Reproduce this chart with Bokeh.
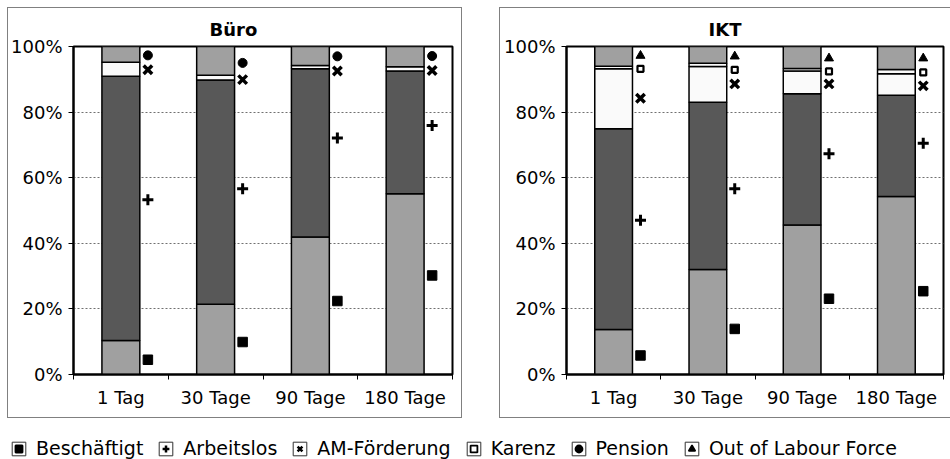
from bokeh.plotting import figure
from bokeh.models import (Range1d, FixedTicker, Legend, LegendItem,
                          ColumnDataSource, Spacer)
from bokeh.layouts import row, column
from bokeh.embed import file_html
from bokeh.resources import INLINE

# ---------------- data ----------------
categories = ["1 Tag", "30 Tage", "90 Tage", "180 Tage"]
series = ["Beschäftigt", "Arbeitslos", "AM-Förderung", "Karenz", "Pension", "Out of Labour Force"]
y_ticks = [0, 20, 40, 60, 80, 100]
y_tick_labels = ["0%", "20%", "40%", "60%", "80%", "100%"]

# stacked shares (%) - Büro
buero_beschaeftigt = [10.4, 21.4, 41.9, 55.1]
buero_arbeitslos = [80.5, 68.4, 51.3, 37.4]
buero_am = [4.3, 1.4, 1.0, 1.3]
buero_karenz = [0.0, 0.0, 0.0, 0.0]
buero_pension = [4.8, 8.8, 5.8, 6.2]
buero_olf = [0.0, 0.0, 0.0, 0.0]

# stacked shares (%) - IKT
ikt_beschaeftigt = [13.7, 32.0, 45.6, 54.3]
ikt_arbeitslos = [61.2, 51.0, 40.0, 30.8]
ikt_am = [18.3, 10.9, 6.9, 6.6]
ikt_karenz = [0.8, 1.0, 0.8, 1.3]
ikt_pension = [0.0, 0.0, 0.0, 0.0]
ikt_olf = [6.0, 5.1, 6.7, 7.0]

# marker series (%) - Büro
buero_m_beschaeftigt = [4.5, 9.9, 22.4, 30.2]
buero_m_arbeitslos = [53.3, 56.6, 72.1, 75.9]
buero_m_am = [92.9, 89.9, 92.5, 92.7]
buero_m_pension = [97.3, 95.0, 97.0, 97.1]

# marker series (%) - IKT
ikt_m_beschaeftigt = [5.8, 13.9, 23.1, 25.4]
ikt_m_arbeitslos = [47.0, 56.6, 67.3, 70.5]
ikt_m_am = [84.2, 88.6, 88.6, 88.0]
ikt_m_karenz = [93.2, 92.9, 92.4, 92.1]
ikt_m_olf = [97.2, 97.0, 96.4, 96.4]

# ---------------- styles ----------------
FONT = "DejaVu Sans"
bar_fill = {
    "Beschäftigt": "#a0a0a0",
    "Arbeitslos": "#585858",
    "AM-Förderung": "#fafafa",
    "Karenz": "#fafafa",
    "Pension": "#a0a0a0",
    "Out of Labour Force": "#a0a0a0",
}
marker_style = {
    "Beschäftigt": dict(marker="square", size=9.5, fill_color="black", line_color="black", line_width=1),
    "Arbeitslos": dict(marker="cross", size=11, fill_color="black", line_color="black", line_width=3),
    "AM-Förderung": dict(marker="x", size=12, fill_color="black", line_color="black", line_width=3.5),
    "Karenz": dict(marker="square", size=6, fill_color="white", line_color="black", line_width=2.2),
    "Pension": dict(marker="circle", size=9, fill_color="black", line_color="black", line_width=1),
    "Out of Labour Force": dict(marker="triangle", size=9, fill_color="black", line_color="black", line_width=1),
}
legend_marker_lw = {"Beschäftigt": 2, "Arbeitslos": 2.5, "AM-Förderung": 2.5, "Karenz": 1.8,
                    "Pension": 2, "Out of Labour Force": 1.5}

BAR_W = 0.4
MK_OFF = 0.285


def make_panel(title, stacks, marks, width, height, left, right, top, bottom,
               title_offset, shadow):
    n = len(categories)
    xs = [i + 0.5 for i in range(n)]
    p = figure(width=width, height=height, x_range=Range1d(0, n), y_range=Range1d(0, 100),
               output_backend="svg", toolbar_location=None,
               min_border_left=left, min_border_right=right,
               min_border_top=top, min_border_bottom=bottom,
               styles={"box-shadow": shadow})
    p.background_fill_color = "white"
    p.border_fill_color = None
    p.outline_line_color = "black"
    p.outline_line_width = 2

    # stacked bars
    present = [(s, v) for s, v in stacks if any(x > 0 for x in v)]
    keys = ["s%d" % i for i in range(len(present))]
    data = {"x": xs}
    for k, (s, v) in zip(keys, present):
        data[k] = v
    src = ColumnDataSource(data)
    p.vbar_stack(keys, x="x", width=BAR_W, source=src,
                 fill_color=[bar_fill[s] for s, v in present],
                 line_color="black", line_width=1.5)

    # markers
    for s, vals in marks:
        p.scatter(x=[x + MK_OFF for x in xs], y=vals, **marker_style[s])

    # grid
    p.xgrid.visible = False
    p.ygrid.ticker = FixedTicker(ticks=y_ticks)
    p.ygrid.grid_line_color = "#707070"
    p.ygrid.grid_line_dash = "2 2"
    p.ygrid.grid_line_width = 1

    # y axis
    yax = p.yaxis[0]
    yax.ticker = FixedTicker(ticks=y_ticks)
    yax.major_label_overrides = {t: l for t, l in zip(y_ticks, y_tick_labels)}
    yax.major_tick_in = 0
    yax.major_tick_out = 5
    yax.major_tick_line_color = "black"
    yax.minor_tick_line_color = None
    yax.axis_line_color = "black"
    yax.axis_line_width = 2
    yax.major_label_standoff = 6
    yax.major_label_text_font = FONT
    yax.major_label_text_font_size = "18px"
    yax.major_label_text_color = "black"

    # x axis
    xax = p.xaxis[0]
    xax.ticker = FixedTicker(ticks=xs, minor_ticks=list(range(n + 1)))
    xax.major_label_overrides = {x: c for x, c in zip(xs, categories)}
    xax.major_tick_line_color = None
    xax.major_tick_in = 0
    xax.major_tick_out = 5
    xax.minor_tick_in = 0
    xax.minor_tick_out = 5
    xax.minor_tick_line_color = "black"
    xax.axis_line_color = "black"
    xax.axis_line_width = 2
    xax.major_label_standoff = 7
    xax.major_label_text_font = FONT
    xax.major_label_text_font_size = "18px"
    xax.major_label_text_color = "black"

    # title
    p.title.text = title
    p.title.align = "left"
    p.title.offset = title_offset
    p.title.standoff = 14
    p.title.text_font = FONT
    p.title.text_font_style = "bold"
    p.title.text_font_size = "18px"
    p.title.text_color = "black"
    return p


p1 = make_panel(
    "Büro",
    [("Beschäftigt", buero_beschaeftigt), ("Arbeitslos", buero_arbeitslos),
     ("AM-Förderung", buero_am), ("Karenz", buero_karenz),
     ("Pension", buero_pension), ("Out of Labour Force", buero_olf)],
    [("Beschäftigt", buero_m_beschaeftigt), ("Arbeitslos", buero_m_arbeitslos),
     ("AM-Förderung", buero_m_am), ("Pension", buero_m_pension)],
    width=455, height=411, left=66, right=10, top=39, bottom=44,
    title_offset=136, shadow="inset 0 0 0 1px #808080")

p2 = make_panel(
    "IKT",
    [("Beschäftigt", ikt_beschaeftigt), ("Arbeitslos", ikt_arbeitslos),
     ("AM-Förderung", ikt_am), ("Karenz", ikt_karenz),
     ("Pension", ikt_pension), ("Out of Labour Force", ikt_olf)],
    [("Beschäftigt", ikt_m_beschaeftigt), ("Arbeitslos", ikt_m_arbeitslos),
     ("AM-Förderung", ikt_m_am), ("Karenz", ikt_m_karenz),
     ("Out of Labour Force", ikt_m_olf)],
    width=451, height=411, left=67, right=7, top=39, bottom=44,
    title_offset=142, shadow="inset 1px 1px 0 0 #808080, inset 0 -1px 0 0 #808080")

# ---------------- legend ----------------
leg = figure(width=950, height=41, x_range=Range1d(0, 1), y_range=Range1d(0, 1),
             output_backend="svg", toolbar_location=None,
             x_axis_location=None, y_axis_location=None, min_border=0)
leg.outline_line_color = None
leg.border_fill_color = None
leg.background_fill_color = None
leg.grid.visible = False
items = []
for s in series:
    box = leg.quad(left=[-10], right=[-9], top=[-9], bottom=[-10], fill_color="white",
                   line_color="#303030", line_width=1)
    st = dict(marker_style[s])
    st["line_width"] = legend_marker_lw[s]
    mk = leg.scatter(x=[-10], y=[-10], **st)
    items.append(LegendItem(label=s, renderers=[box, mk]))
legend = Legend(items=items, orientation="horizontal", location=(10, 0),
                glyph_width=17, glyph_height=17, label_standoff=9, spacing=14,
                padding=0, margin=0, border_line_color=None,
                background_fill_alpha=0,
                label_text_font=FONT, label_text_font_size="19px",
                label_text_color="black")
leg.add_layout(legend)

layout = column(
    Spacer(width=950, height=7),
    row(Spacer(width=7, height=411), p1, Spacer(width=37, height=411), p2),
    leg,
)

open("out.html", "w").write(file_html(layout, INLINE))
